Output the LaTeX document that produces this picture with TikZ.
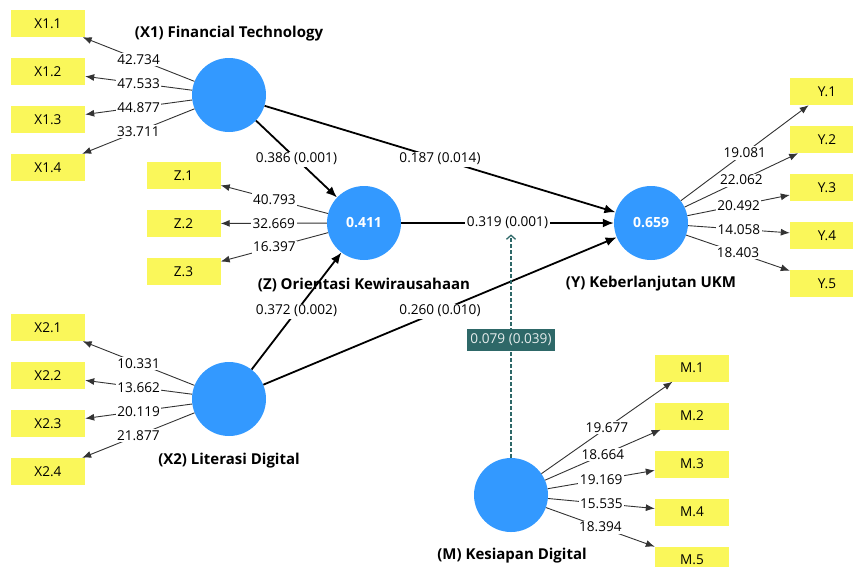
\documentclass[tikz,border=0pt]{standalone}
\usepackage{fontspec}
\setmainfont{Open Sans}
\usepackage{xcolor}
\usetikzlibrary{arrows.meta,positioning}
\definecolor{lvblue}{RGB}{51,153,255}
\definecolor{mvyellow}{RGB}{250,247,90}
\definecolor{modteal}{RGB}{46,104,104}
\tikzset{
	latent/.style = {
			circle,
			fill            = lvblue,
			minimum size    = 74pt,
			inner sep       = 0pt,
			text            = white,
			font            = \fontsize{14}{16}\selectfont\bfseries,
		},
	indicator/.style = {
			rectangle,
			fill            = mvyellow,
			minimum width   = 74pt,
			minimum height  = 27pt,
			inner sep       = 0pt,
		},
	lvname/.style = {font=\fontsize{15}{17}\selectfont\bfseries},
	loading/.style = {draw=black!80, line width=0.9pt, -{Latex[length=9pt,width=7pt]}},
	pathcoef/.style = {draw=black, line width=1.8pt, -{Latex[length=11pt,width=9pt]}},
	coef/.style = {fill=white, inner sep=1.5pt},
	modline/.style = {draw=modteal, line width=1.3pt, dash pattern=on 4pt off 2pt, -{Straight Barb[length=4pt,width=9pt]}, shorten >=3pt},
	modlabel/.style = {fill=modteal, text=white!88!modteal, inner sep=3pt, minimum height=22pt},
}

\begin{document}
\begin{tikzpicture}[x=1pt, y=-1pt, font=\fontsize{13.6}{15}\selectfont]
	\useasboundingbox (0,0) rectangle (853,566);

	% latent variables
	\node[latent] (X1) at (229,95)  {};
	\node[latent] (Z)  at (364,223) {0.411};
	\node[latent] (Y)  at (651,223) {0.659};
	\node[latent] (X2) at (229,399) {};
	\node[latent] (M)  at (511,495) {};

	\node[lvname] at (229,34)  {(X1) Financial Technology};
	\node[lvname] at (364,285) {(Z) Orientasi Kewirausahaan};
	\node[lvname] at (651,284) {(Y) Keberlanjutan UKM};
	\node[lvname] at (229,461) {(X2) Literasi Digital};
	\node[lvname] at (512,556) {(M) Kesiapan Digital};

	% indicators
	\foreach \i/\y/\v in {1/23.5/42.734, 2/71.5/47.533, 3/119.5/44.877, 4/167.5/33.711} {
		\node[indicator] (X1\i) at (48,\y) {X1.\i};
		\draw[loading] (X1) -- node[coef] {\v} (X1\i);
	}
	\foreach \i/\y/\v in {1/175.5/40.793, 2/223.5/32.669, 3/271.5/16.397} {
		\node[indicator] (Z\i) at (183.5,\y) {Z.\i};
		\draw[loading] (Z) -- node[coef] {\v} (Z\i);
	}
	\foreach \i/\y/\v in {1/327.5/10.331, 2/375.5/13.662, 3/423.5/20.119, 4/471.5/21.877} {
		\node[indicator] (X2\i) at (48,\y) {X2.\i};
		\draw[loading] (X2) -- node[coef] {\v} (X2\i);
	}
	\foreach \i/\y/\v in {1/91.5/19.081, 2/139.5/22.062, 3/187.5/20.492, 4/235.5/14.058, 5/283.5/18.403} {
		\node[indicator] (Y\i) at (827,\y) {Y.\i};
		\draw[loading] (Y) -- node[coef] {\v} (Y\i);
	}
	\foreach \i/\y/\v in {1/368/19.677, 2/416/18.664, 3/464/19.169, 4/512/15.535, 5/560/18.394} {
		\node[indicator] (M\i) at (692,\y) {M.\i};
		\draw[loading] (M) -- node[coef] {\v} (M\i);
	}

	% structural paths
	\draw[pathcoef] (X1) -- node[coef] {0.386 (0.001)} (Z);
	\draw[pathcoef] (X1) -- node[coef] {0.187 (0.014)} (Y);
	\draw[pathcoef] (Z)  -- node[coef] (ZY) {0.319 (0.001)} (Y);
	\draw[pathcoef] (X2) -- node[coef] {0.372 (0.002)} (Z);
	\draw[pathcoef] (X2) -- node[coef] {0.260 (0.010)} (Y);

	% moderating effect
	\draw[modline] (M) -- node[modlabel, pos=0.52] {0.079 (0.039)} (M |- ZY.south);

\end{tikzpicture}
\end{document}
